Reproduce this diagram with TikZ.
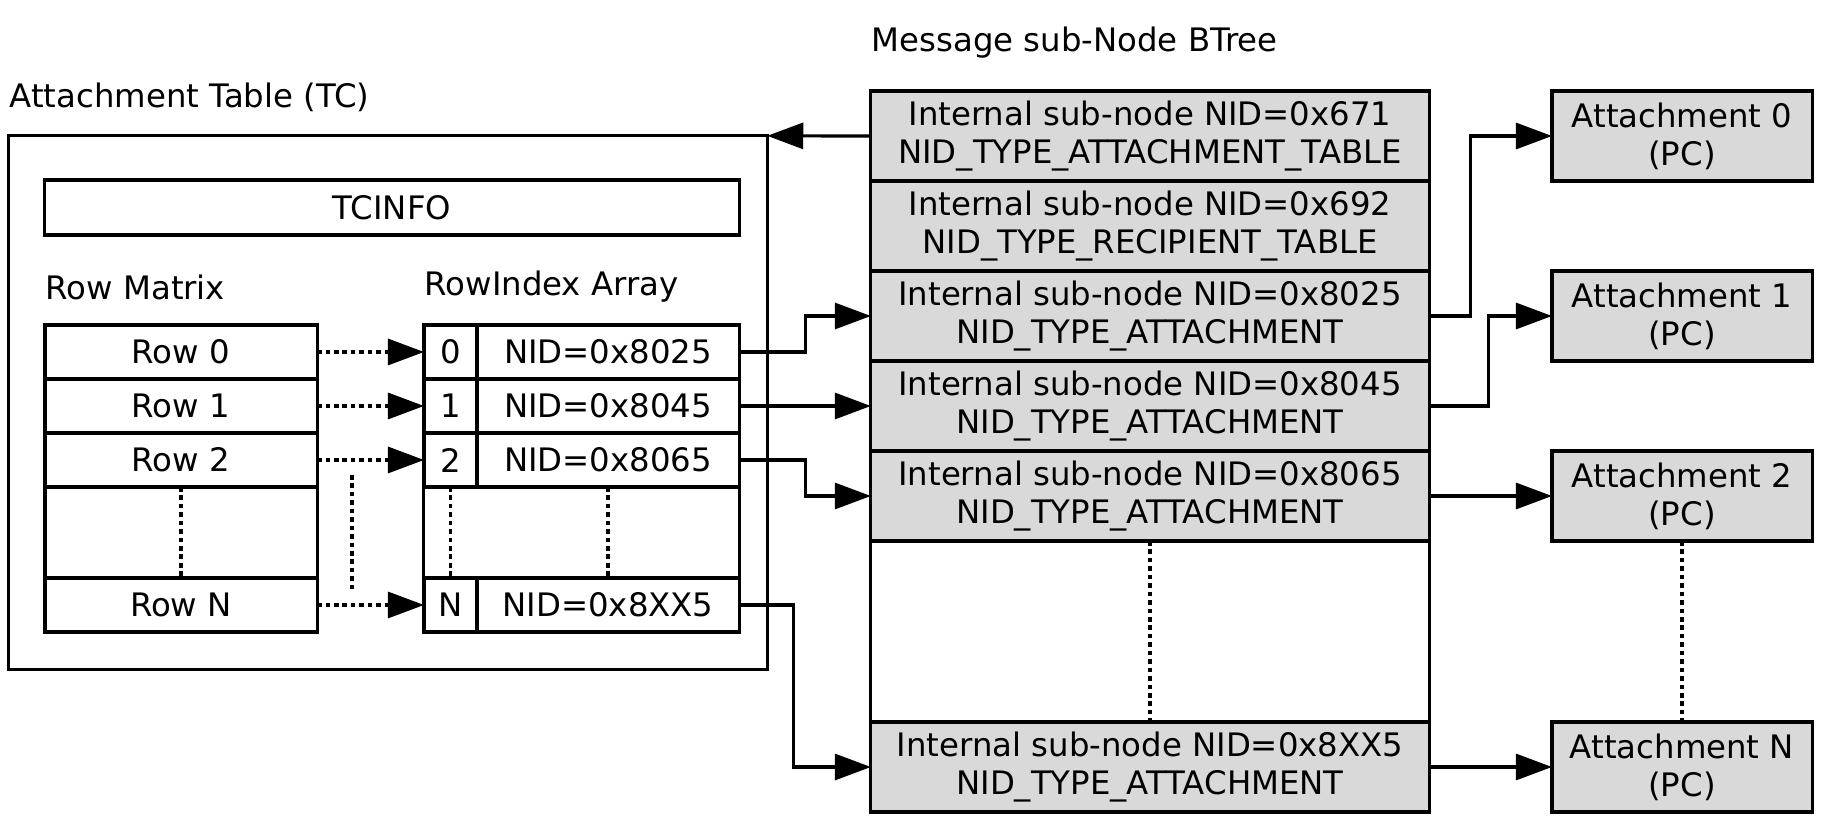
\documentclass[tikz,border=0pt]{standalone}
\usepackage{fontspec}
\setmainfont{DejaVu Sans}
\usepackage{tikz}
\usetikzlibrary{arrows.meta}
\tikzset{cell/.style = {draw, line width=0.9pt, inner sep=0pt, outer sep=0pt, align=center},
  grey cell/.style = {cell, fill=black!15},
  title/.style = {anchor=west, inner sep=0pt},
  link/.style = {line width=0.9pt, -{Triangle[length=0.36cm,width=0.26cm]}},
  dots/.style = {line width=0.9pt, dash pattern=on 1.3pt off 1.1pt}}

\begin{document}
\begin{tikzpicture}[x=0.01cm,y=-0.01cm,font=\fontsize{9.2pt}{10.8pt}\selectfont]
  \useasboundingbox (0,0) rectangle (1821,822);

  % attachment table
  \node[title] (tctitle) at (9,97) {Attachment Table (TC)};
  \node[cell, minimum width=7.58cm, minimum height=5.33cm] (tc) at (388,402.5) {};
  \node[cell, minimum width=6.94cm, minimum height=0.55cm] (tcinfo) at (392,207.5) {TCINFO};
  \node[title] (rmtitle) at (45,287) {Row Matrix};
  \node[title] (rititle) at (424,287) {RowIndex Array};

  \node[cell, minimum width=2.72cm, minimum height=0.54cm] (rm0) at (181,352) {Row 0};
  \node[cell, minimum width=2.72cm, minimum height=0.54cm] (rm1) at (181,406) {Row 1};
  \node[cell, minimum width=2.72cm, minimum height=0.54cm] (rm2) at (181,460) {Row 2};
  \node[cell, minimum width=2.72cm, minimum height=0.91cm] (rmgap) at (181,532.5) {};
  \node[cell, minimum width=2.72cm, minimum height=0.54cm] (rmN) at (181,605) {Row N};

  \node[cell, minimum width=0.53cm, minimum height=0.54cm] (idx0) at (450.5,352) {0};
  \node[cell, minimum width=0.53cm, minimum height=0.54cm] (idx1) at (450.5,406) {1};
  \node[cell, minimum width=0.53cm, minimum height=0.54cm] (idx2) at (450.5,460) {2};
  \node[cell, minimum width=0.53cm, minimum height=0.54cm] (idxN) at (450.5,605) {N};
  \node[cell, minimum width=2.62cm, minimum height=0.54cm] (nid0) at (608,352) {NID=0x8025};
  \node[cell, minimum width=2.62cm, minimum height=0.54cm] (nid1) at (608,406) {NID=0x8045};
  \node[cell, minimum width=2.62cm, minimum height=0.54cm] (nid2) at (608,460) {NID=0x8065};
  \node[cell, minimum width=2.62cm, minimum height=0.54cm] (nidN) at (608,605) {NID=0x8XX5};
  \node[cell, minimum width=3.15cm, minimum height=0.91cm] (idxgap) at (581.5,532.5) {};

  % message sub-node btree
  \node[title] (bttitle) at (871,43) {Message sub-Node BTree};
  \node[cell, minimum width=5.58cm, minimum height=7.21cm] (btree) at (1150,451.5) {};
  \node[grey cell, minimum width=5.58cm, minimum height=0.9cm] (bt0) at (1150,136) {Internal sub-node NID=0x671\\NID\_TYPE\_ATTACHMENT\_TABLE};
  \node[grey cell, minimum width=5.58cm, minimum height=0.9cm] (bt1) at (1150,226) {Internal sub-node NID=0x692\\NID\_TYPE\_RECIPIENT\_TABLE};
  \node[grey cell, minimum width=5.58cm, minimum height=0.9cm] (bt2) at (1150,316) {Internal sub-node NID=0x8025\\NID\_TYPE\_ATTACHMENT};
  \node[grey cell, minimum width=5.58cm, minimum height=0.9cm] (bt3) at (1150,406) {Internal sub-node NID=0x8045\\NID\_TYPE\_ATTACHMENT};
  \node[grey cell, minimum width=5.58cm, minimum height=0.9cm] (bt4) at (1150,496) {Internal sub-node NID=0x8065\\NID\_TYPE\_ATTACHMENT};
  \node[grey cell, minimum width=5.58cm, minimum height=0.9cm] (btN) at (1150,767) {Internal sub-node NID=0x8XX5\\NID\_TYPE\_ATTACHMENT};

  % attachments
  \node[grey cell, minimum width=2.6cm, minimum height=0.9cm] (att0) at (1682,136) {Attachment 0\\(PC)};
  \node[grey cell, minimum width=2.6cm, minimum height=0.9cm] (att1) at (1682,316) {Attachment 1\\(PC)};
  \node[grey cell, minimum width=2.6cm, minimum height=0.9cm] (att2) at (1682,496) {Attachment 2\\(PC)};
  \node[grey cell, minimum width=2.6cm, minimum height=0.9cm] (attN) at (1682,767) {Attachment N\\(PC)};

  \coordinate (skip1) at (352,475);
  \coordinate (skip2) at (352,593);

  \draw[link, dots] (rm0.east) -- (idx0.west);
  \draw[link, dots] (rm1.east) -- (idx1.west);
  \draw[link, dots] (rm2.east) -- (idx2.west);
  \draw[link, dots] (rmN.east) -- (idxN.west);
  \draw[dots] (rmgap.north) -- (rmgap.south);
  \draw[dots] (idxgap.north -| idx0) -- (idxgap.south -| idx0);
  \draw[dots] (idxgap.north -| nid0) -- (idxgap.south -| nid0);
  \draw[dots] (skip1) -- (skip2);
  \draw[dots] (bt4.south) -- (btN.north);
  \draw[dots] (att2.south) -- (attN.north);

  \draw[link] (bt0.west) -- (tc.north east);
  \draw[link] (nid0.east) -- ++(66,0) |- (bt2.west);
  \draw[link] (nid1.east) -- (bt3.west);
  \draw[link] (nid2.east) -- ++(66,0) |- (bt4.west);
  \draw[link] (nidN.east) -- ++(54,0) |- (btN.west);
  \draw[link] (bt2.east) -- ++(41,0) |- (att0.west);
  \draw[link] (bt3.east) -- ++(59,0) |- (att1.west);
  \draw[link] (bt4.east) -- (att2.west);
  \draw[link] (btN.east) -- (attN.west);

\end{tikzpicture}
\end{document}
